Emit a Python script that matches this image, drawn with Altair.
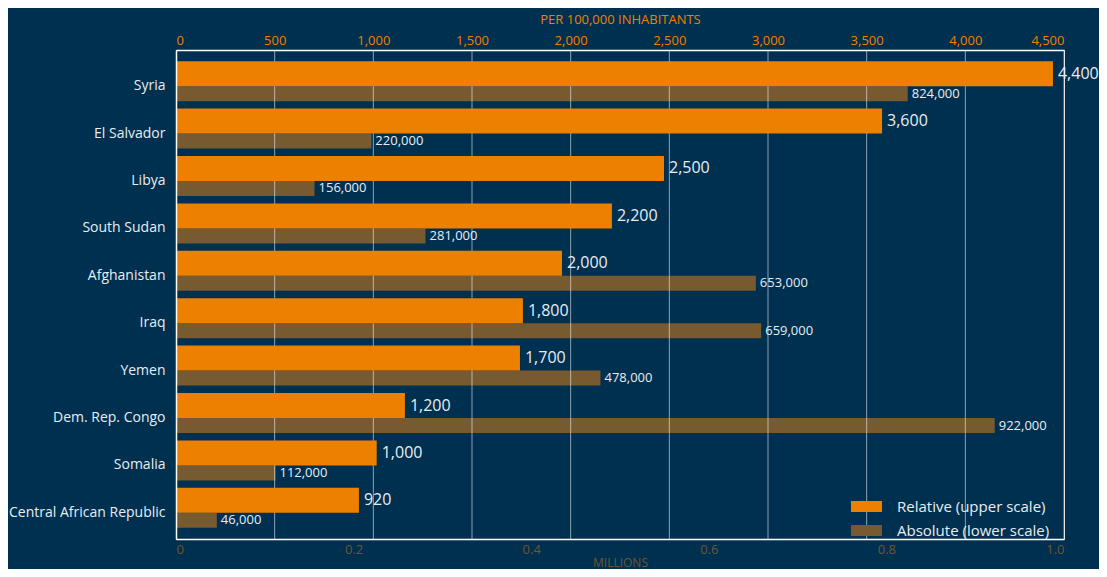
import altair as alt
import pandas as pd

countries = ["Syria", "El Salvador", "Libya", "South Sudan", "Afghanistan", "Iraq",
             "Yemen", "Dem. Rep. Congo", "Somalia", "Central African Republic"]
relative = [4444, 3578, 2473, 2209, 1956, 1758, 1743, 1160, 1017, 927]
relative_labels = ["4,400", "3,600", "2,500", "2,200", "2,000", "1,800", "1,700",
                   "1,200", "1,000", "920"]
absolute = [0.824, 0.220, 0.156, 0.281, 0.653, 0.659, 0.478, 0.922, 0.112, 0.046]
absolute_labels = ["824,000", "220,000", "156,000", "281,000", "653,000", "659,000",
                   "478,000", "922,000", "112,000", "46,000"]
upper_ticks = [0, 500, 1000, 1500, 2000, 2500, 3000, 3500, 4000, 4500]
lower_ticks = [0, 0.2, 0.4, 0.6, 0.8, 1.0]
series = ["Relative (upper scale)", "Absolute (lower scale)"]

BG = "#003050"
ORANGE = "#EE8000"
BROWN = "#775A2F"
BROWN_TXT = "#6E5530"
TXT = "#E8EDF1"
FONT = "Open Sans"

df = pd.DataFrame({
    "country": countries,
    "relative": relative,
    "relative_label": relative_labels,
    "absolute": absolute,
    "absolute_label": absolute_labels,
})
grid_df = pd.DataFrame({"tick": upper_ticks[1:]})

y_scale = alt.Scale(paddingInner=0, paddingOuter=0.158)
color_scale = alt.Scale(domain=series, range=[ORANGE, BROWN])
rel_scale = alt.Scale(domain=[0, 4500], nice=False, zero=True)
abs_scale = alt.Scale(domain=[0, 1.0], nice=False, zero=True)

legend = alt.Legend(
    orient="none", legendX=683, legendY=449, title=None,
    symbolType="M-2.82,-1L2.82,-1L2.82,1L-2.82,1Z", symbolSize=121,
    symbolStrokeWidth=0, symbolOpacity=1,
    labelFontSize=15, labelColor=TXT, labelFont=FONT, labelOffset=23,
    rowPadding=8, padding=0,
)

base = alt.Chart(df)

brown_bars = base.transform_calculate(series=f'"{series[1]}"').mark_bar(
    height=15, yOffset=12.5
).encode(
    y=alt.Y("country:N", sort=countries, scale=y_scale,
            axis=alt.Axis(title=None, ticks=False, tickSize=0, labelPadding=11,
                          labelFontSize=14, labelColor=TXT, labelFont=FONT,
                          labelOffset=5, domainColor="white", domainWidth=1.5,
                          grid=False, zindex=1)),
    x=alt.X("absolute:Q", scale=abs_scale,
            axis=alt.Axis(orient="bottom", values=lower_ticks,
                          labelExpr="datum.value == 0 ? '0' : format(datum.value, '.1f')",
                          title="MILLIONS", titleColor=BROWN_TXT, titleFontSize=12,
                          titleFontWeight="normal", titleFont=FONT, titlePadding=1,
                          labelColor=BROWN_TXT, labelFontSize=13, labelFont=FONT,
                          labelPadding=4, ticks=False, tickSize=0, grid=False,
                          domainColor="white", domainWidth=1.5, zindex=1)),
    color=alt.Color("series:N", scale=color_scale, legend=legend),
)

grid_rules = alt.Chart(grid_df).mark_rule(color="white", opacity=0.55, strokeWidth=1).encode(
    x=alt.X("tick:Q", scale=rel_scale, axis=None),
)

orange_bars = base.transform_calculate(series=f'"{series[0]}"').mark_bar(
    height=25, yOffset=-7.5
).encode(
    y=alt.Y("country:N", sort=countries, scale=y_scale),
    x=alt.X("relative:Q", scale=rel_scale,
            axis=alt.Axis(orient="top", values=upper_ticks,
                          labelExpr="format(datum.value, ',.0f')",
                          title="PER 100,000 INHABITANTS", titleColor=ORANGE,
                          titleFontSize=13, titleFontWeight="normal", titleFont=FONT,
                          titlePadding=8, labelColor=ORANGE, labelFontSize=13,
                          labelFont=FONT, labelPadding=3, ticks=False, tickSize=0,
                          grid=False, domainColor="white", domainWidth=1.5, zindex=1)),
    color=alt.Color("series:N", scale=color_scale, legend=legend),
)

orange_text = base.mark_text(
    align="left", baseline="middle", dx=5, yOffset=-7.5, fontSize=16,
    color=TXT, font=FONT
).encode(
    y=alt.Y("country:N", sort=countries, scale=y_scale),
    x=alt.X("relative:Q", scale=rel_scale, axis=None),
    text="relative_label:N",
)

brown_text = base.mark_text(
    align="left", baseline="middle", dx=4, yOffset=12.5, fontSize=13,
    color=TXT, font=FONT
).encode(
    y=alt.Y("country:N", sort=countries, scale=y_scale),
    x=alt.X("absolute:Q", scale=abs_scale, axis=None),
    text="absolute_label:N",
)

chart = alt.layer(brown_bars, grid_rules, orange_bars, orange_text, brown_text).resolve_scale(
    x="independent"
).properties(
    width=888, height=489,
    autosize=alt.AutoSizeParams(type="none"),
    padding={"left": 168, "top": 42, "right": 35, "bottom": 30},
    background=BG,
).configure_view(stroke=None).configure(font=FONT)

chart.save("out.html", embed_options={"renderer": "svg", "actions": False})
